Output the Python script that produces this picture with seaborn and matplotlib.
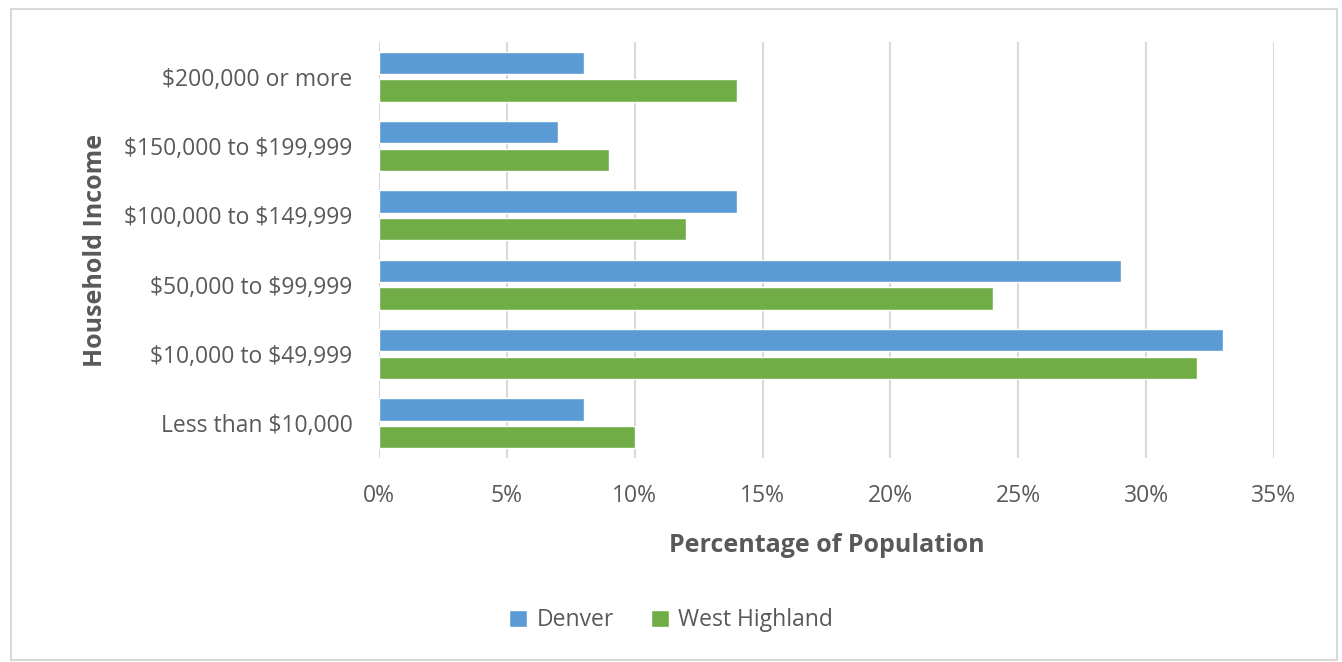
import matplotlib.pyplot as plt
import pandas as pd
import seaborn as sns
from matplotlib.patches import Rectangle
from matplotlib.ticker import FuncFormatter, MultipleLocator

categories = ['$200,000 or more', '$150,000 to $199,999', '$100,000 to $149,999',
              '$50,000 to $99,999', '$10,000 to $49,999', 'Less than $10,000']
denver = [8, 7, 14, 29, 33, 8]
west_highland = [14, 9, 12, 24, 32, 10]
series = ['Denver', 'West Highland']
colors = ['#5B9BD5', '#70AD47']

df = pd.DataFrame({
    'income': categories * 2,
    'pct': denver + west_highland,
    'area': [series[0]] * len(categories) + [series[1]] * len(categories),
})

sns.set_style('white')
plt.rcParams['font.family'] = ['Open Sans', 'DejaVu Sans']
plt.rcParams['text.parse_math'] = False  # keep the dollar signs literal
text_color = '#595959'

fig = plt.figure(figsize=(13.42, 6.62), dpi=100)
ax = fig.add_axes([0.2824, 0.3082, 0.6669, 0.6284])

sns.barplot(df, x='pct', y='income', hue='area', order=categories, hue_order=series,
            palette=colors, width=0.8, gap=0.2, ax=ax, saturation=1, legend=True)

ax.set_xlim(0, 35)
ax.xaxis.set_major_locator(MultipleLocator(5))
ax.xaxis.set_major_formatter(FuncFormatter(lambda v, p: f'{v:.0f}%'))
ax.grid(axis='x', color='#D9D9D9', linewidth=1.5)
ax.set_axisbelow(True)
for s in ax.spines.values():
    s.set_visible(False)
ax.tick_params(axis='both', length=0, labelsize=16.5, colors=text_color)
ax.tick_params(axis='x', pad=19)
ax.tick_params(axis='y', pad=19)

ax.set_xlabel('Percentage of Population', fontsize=18, fontweight='bold', color=text_color, labelpad=18)
ax.set_ylabel('Household Income', fontsize=18, fontweight='bold', color=text_color, labelpad=12)

ax.get_legend().remove()
handles, labels = ax.get_legend_handles_labels()
fig.legend(handles, labels, loc='center', bbox_to_anchor=(0.5, 0.063), ncol=2, frameon=False,
           fontsize=16.5, labelcolor=text_color, handlelength=0.8, handleheight=0.8,
           handletextpad=0.4, columnspacing=1.6)

fig.patches.append(Rectangle((0.008, 0.003), 0.988, 0.983, transform=fig.transFigure,
                             fill=False, edgecolor='#D9D9D9', linewidth=1.5))

fig.savefig('out.png', dpi=100)
